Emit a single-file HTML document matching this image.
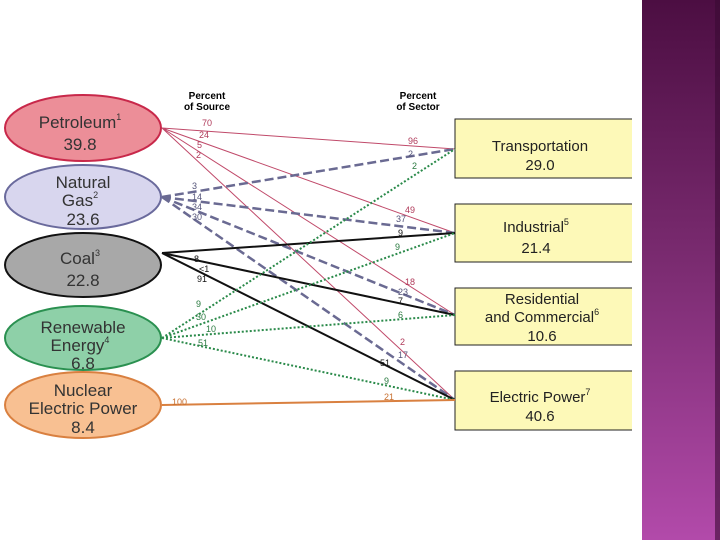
<!DOCTYPE html>
<html><head><meta charset="utf-8"><style>
body{margin:0;width:720px;height:540px;overflow:hidden;background:#fff;font-family:"Liberation Sans",sans-serif}
</style></head><body>
<svg width="720" height="540" viewBox="0 0 720 540" xmlns="http://www.w3.org/2000/svg" font-family="Liberation Sans, sans-serif">
<defs><linearGradient id="g" x1="0" y1="0" x2="0" y2="1"><stop offset="0" stop-color="#4c0e42"/><stop offset="0.5" stop-color="#7c2c72"/><stop offset="1" stop-color="#b24aaa"/></linearGradient></defs>
<rect x="642" y="0" width="78" height="540" fill="url(#g)"/>
<rect x="715" y="0" width="5" height="540" fill="#3a0a33" opacity="0.6"/>
<text x="207" y="99" font-size="10" font-weight="bold" text-anchor="middle">Percent</text>
<text x="207" y="110" font-size="10" font-weight="bold" text-anchor="middle">of Source</text>
<text x="418" y="99" font-size="10" font-weight="bold" text-anchor="middle">Percent</text>
<text x="418" y="110" font-size="10" font-weight="bold" text-anchor="middle">of Sector</text>
<!-- boxes -->
<g fill="#fdf9b8" stroke="#222" stroke-width="1">
<path d="M632 119H455V178H632"/><path d="M632 204H455V262H632"/><path d="M632 288H455V345H632"/><path d="M632 371H455V430H632"/>
</g>
<g font-size="15" text-anchor="middle" fill="#222">
<text x="540" y="151">Transportation</text><text x="540" y="170">29.0</text>
<text x="536" y="232">Industrial<tspan font-size="9" dy="-7">5</tspan></text><text x="536" y="253">21.4</text>
<text x="542" y="304">Residential</text><text x="542" y="322">and Commercial<tspan font-size="9" dy="-7">6</tspan></text><text x="542" y="341">10.6</text>
<text x="540" y="402">Electric Power<tspan font-size="9" dy="-7">7</tspan></text><text x="540" y="421">40.6</text>
</g>
<!-- lines -->
<g stroke="#c04a6a" stroke-width="1" fill="none">
<path d="M162 128L455 149M162 128L455 233M162 128L455 315M162 128L455 400"/></g>
<g stroke="#6a6a92" stroke-width="2.5" stroke-dasharray="9 4" fill="none">
<path d="M162 197L455 149M162 197L455 233M162 197L455 315M162 197L455 400"/></g>
<g stroke="#111" stroke-width="2" fill="none">
<path d="M162 253L455 233M162 253L455 315M162 253L455 400"/></g>
<g stroke="#2a8a4a" stroke-width="2" stroke-dasharray="2 2" fill="none">
<path d="M162 338L455 149M162 338L455 233M162 338L455 315M162 338L455 400"/></g>
<path d="M162 405L455 400" stroke="#d98040" stroke-width="2"/>
<!-- labels -->
<g font-size="9">
<g fill="#b03a5a"><text x="202" y="126">70</text><text x="199" y="138">24</text><text x="197" y="148">5</text><text x="196" y="158">2</text>
<text x="408" y="144">96</text><text x="405" y="213">49</text><text x="405" y="285">18</text><text x="400" y="345">2</text></g>
<g fill="#55557a"><text x="192" y="189">3</text><text x="192" y="200">14</text><text x="192" y="210">34</text><text x="192" y="220">30</text>
<text x="408" y="157">2</text><text x="396" y="222">37</text><text x="398" y="295">23</text><text x="398" y="358">17</text></g>
<g fill="#111"><text x="194" y="262">8</text><text x="199" y="272">&lt;1</text><text x="197" y="282">91</text>
<text x="398" y="236">9</text><text x="398" y="304">7</text><text x="380" y="366">51</text></g>
<g fill="#2a7a40"><text x="196" y="307">9</text><text x="196" y="320">30</text><text x="206" y="332">10</text><text x="198" y="346">51</text>
<text x="412" y="169">2</text><text x="395" y="250">9</text><text x="398" y="318">6</text><text x="384" y="384">9</text></g>
<g fill="#c87030"><text x="172" y="405">100</text><text x="384" y="400">21</text></g>
</g>
<!-- ellipses -->
<ellipse cx="83" cy="128" rx="78" ry="33" fill="#ec8e98" stroke="#c8284a" stroke-width="2"/>
<ellipse cx="83" cy="197" rx="78" ry="32" fill="#d8d6ee" stroke="#6a6a9c" stroke-width="2"/>
<ellipse cx="83" cy="265" rx="78" ry="32" fill="#a8a8a8" stroke="#111" stroke-width="2"/>
<ellipse cx="83" cy="338" rx="78" ry="32" fill="#8ed0a8" stroke="#2a9050" stroke-width="2"/>
<ellipse cx="83" cy="405" rx="78" ry="33" fill="#f8c092" stroke="#d98040" stroke-width="2"/>
<g font-size="17" text-anchor="middle" fill="#333">
<text x="80" y="128">Petroleum<tspan font-size="9" dy="-8">1</tspan></text><text x="80" y="150">39.8</text>
<text x="83" y="188">Natural</text><text x="80" y="206">Gas<tspan font-size="9" dy="-8">2</tspan></text><text x="83" y="225">23.6</text>
<text x="80" y="264">Coal<tspan font-size="9" dy="-8">3</tspan></text><text x="83" y="286">22.8</text>
<text x="83" y="333">Renewable</text><text x="80" y="351">Energy<tspan font-size="9" dy="-8">4</tspan></text><text x="83" y="369">6.8</text>
<text x="83" y="396">Nuclear</text><text x="83" y="414">Electric Power</text><text x="83" y="433">8.4</text>
</g>
</svg>
</body></html>
